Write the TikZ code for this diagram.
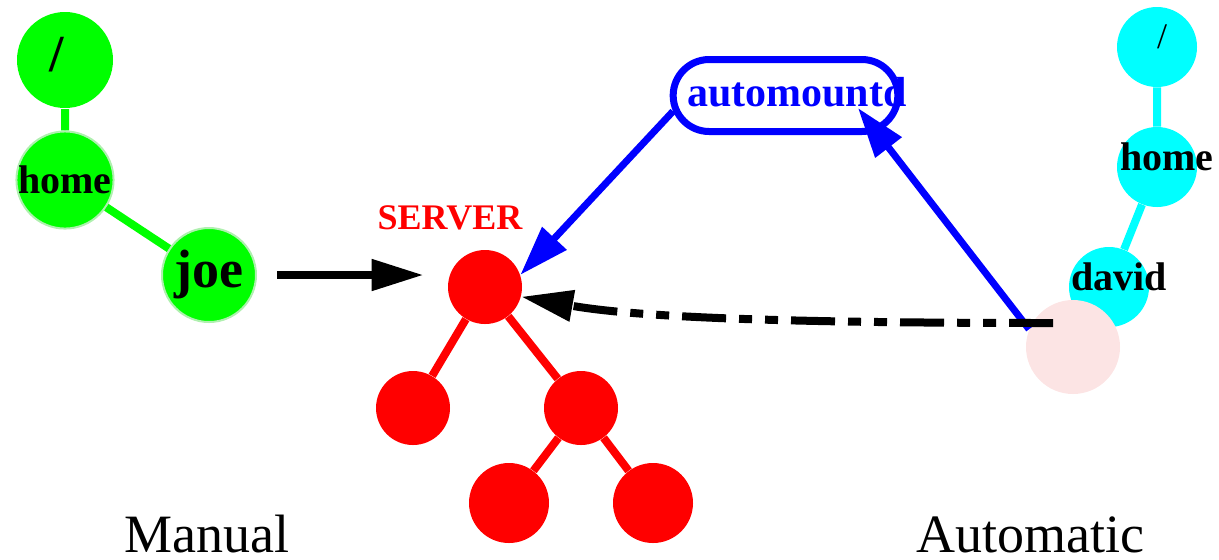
\documentclass[tikz,border=0pt]{standalone}
\usepackage{fontspec}
\setmainfont{Liberation Serif}
\usetikzlibrary{positioning,arrows.meta,shapes.misc}
\definecolor{palepink}{RGB}{252,228,228}
\definecolor{halo}{RGB}{175,240,175}
\definecolor{aqua}{RGB}{0,255,255}
\definecolor{lime}{RGB}{0,255,0}

\begin{document}
\begin{tikzpicture}[x=1pt,y=1pt,on grid,
    gnode/.style={circle,fill=lime,draw=halo,line width=1pt,minimum size=47pt,inner sep=0pt,font=\bfseries\fontsize{20}{20}\selectfont},
    cnode/.style={circle,fill=aqua,minimum size=40pt,inner sep=0pt},
    ctxt/.style={font=\bfseries\fontsize{20}{20}\selectfont,xshift=5pt,yshift=5pt},
    snode/.style={circle,fill=red,minimum size=37pt,inner sep=0pt},
    tree/.style={line width=4pt},
    arr/.style={line width=4pt,-{Triangle[length=26pt,width=15pt]}},
    barr/.style={blue,line width=3.5pt,-{Triangle[length=25pt,width=16pt]}},
    big/.style={font=\fontsize{27}{27}\selectfont,inner sep=0pt}]
  \useasboundingbox (0,0) rectangle (609.5,-279.5);

  % manual mount
  \node[gnode,draw=none,minimum size=48pt,
        label={[font=\bfseries\fontsize{26}{26}\selectfont,xshift=-4pt,yshift=2.5pt]center:/}]
               (groot) at (32.5,-30) {};
  \node[gnode] (ghome) [below=60pt of groot]              {home};
  \node[gnode,font=\bfseries\fontsize{27}{27}\selectfont]
               (gjoe)  [below right=47.5pt and 72pt of ghome] {joe};
  \draw[tree,lime] (groot) -- (ghome) -- (gjoe);

  % server tree
  \node[snode] (sroot) at (242.5,-143.5) {};
  \node[snode] (sl)  [below left=60.5pt and 36pt of sroot]  {};
  \node[snode] (sr)  [below right=60.5pt and 48pt of sroot] {};
  \node[snode,minimum size=40pt] (srl) [below left=47.5pt and 36pt of sr]  {};
  \node[snode,minimum size=40pt] (srr) [below right=47.5pt and 36pt of sr] {};
  \node[red,font=\bfseries\fontsize{18}{18}\selectfont]
        (server) [above left=34.5pt and 17.5pt of sroot] {SERVER};
  \draw[tree,red] (sl) -- (sroot) -- (sr) -- (srl)
                  (sr) -- (srr);

  % automatic mount
  \node[cnode,label={[ctxt,font=\fontsize{18}{18}\selectfont,xshift=-2.5pt]center:/}]
        (croot) at (578.5,-23.5) {};
  \node[cnode,label={[ctxt]center:home}]  (chome)  [below=60pt of croot] {};
  \node[cnode,label={[ctxt]center:david}] (cdavid) [below left=60pt and 24pt of chome] {};
  \draw[tree,aqua] (croot) -- (chome) -- (cdavid);
  \node[circle,fill=palepink,minimum size=47pt,inner sep=0pt]
        (mnt) [below left=30pt and 18pt of cdavid] {};

  \node[rounded rectangle,draw=blue,line width=3.5pt,minimum width=119pt,minimum height=36pt,
        label={[blue,font=\bfseries\fontsize{21}{21}\selectfont,xshift=5.75pt,yshift=1.75pt]center:automountd}]
        (amd) at (392.75,-47.75) {};
  \coordinate (amdin)  at (429,-54);
  \coordinate (dstart) at (526.5,-161.5);

  % connectors
  \draw[arr,shorten <=10pt,shorten >=12pt] (gjoe.east) -- (gjoe.east -| sroot.west);
  \draw[barr] (amd.188) -- (sroot.19);
  \draw[barr] (mnt.158) -- (amdin);
  \draw[arr,dash pattern=on 22pt off 6.5pt on 6.5pt off 6.5pt on 6.5pt off 6.5pt]
        (dstart) .. controls (400,-161.5) and (320,-159) .. (sroot.-15);

  \node[big,anchor=base] (manual) at (103.5,-276) {Manual};
  \node[big,anchor=base] (auto)   at (515,-276)   {Automatic};
\end{tikzpicture}
\end{document}
